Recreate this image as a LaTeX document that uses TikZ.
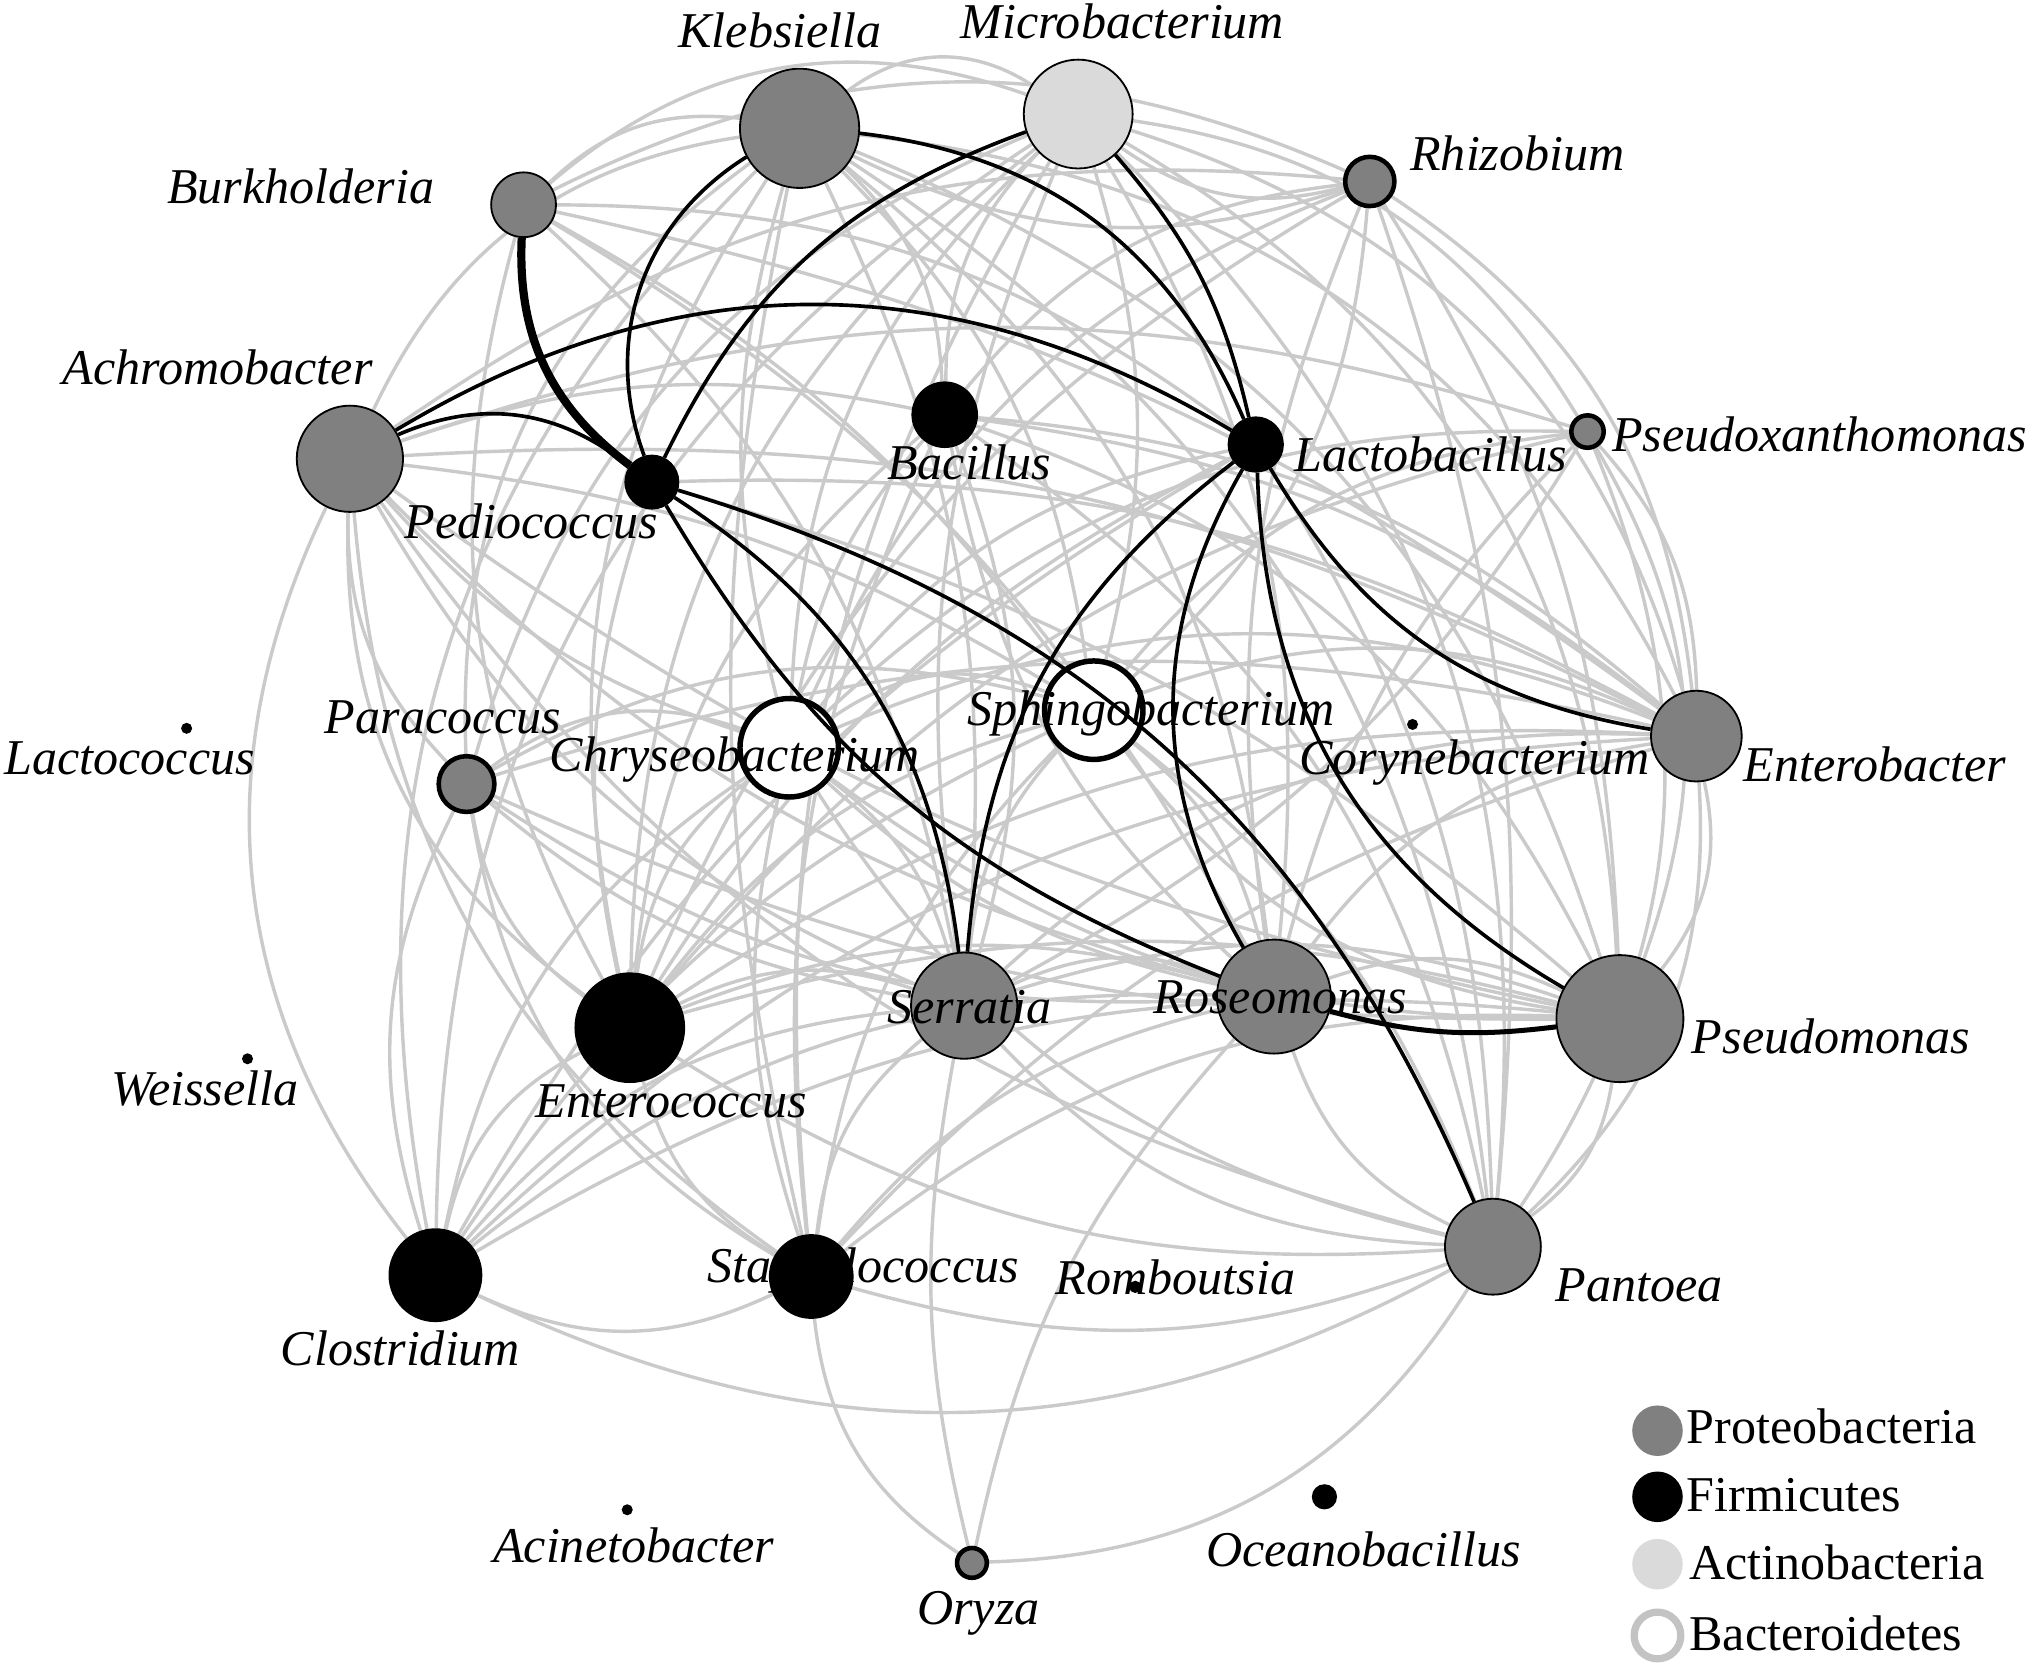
\documentclass[tikz,border=0pt]{standalone}
\usepackage{fontspec}
\setmainfont{Liberation Serif}
\usepackage{tikz}
\usetikzlibrary{positioning}
\definecolor{protgray}{RGB}{128,128,128}
\definecolor{actigray}{RGB}{218,218,218}
\definecolor{edgegray}{RGB}{202,202,202}
\definecolor{ringgray}{RGB}{195,195,195}
\tikzstyle{taxon} = [circle, inner sep=0pt, draw=black, line width=0.4pt]
\tikzstyle{prot} = [taxon, fill=protgray]
\tikzstyle{firm} = [taxon, fill=black]
\tikzstyle{acti} = [taxon, fill=actigray]
\tikzstyle{bact} = [taxon, fill=white, line width=1.2pt]
\tikzstyle{rim} = [line width=1pt]
\tikzstyle{lab} = [inner sep=0pt, text height=8pt, text depth=2.5pt, font=\fontsize{11}{13}\selectfont\itshape]
\tikzstyle{leg} = [inner sep=0pt, anchor=west, text height=8pt, text depth=2.5pt, font=\fontsize{11}{13}\selectfont]
\tikzstyle{gedge} = [draw=edgegray, line width=0.75pt]
\tikzstyle{kedge} = [draw=black, line width=0.8pt]
\pgfdeclarelayer{edges}
\pgfdeclarelayer{front}
\pgfsetlayers{edges,main,front}

\begin{document}
\begin{tikzpicture}[x=0.1mm, y=-0.1mm]
  \useasboundingbox (0,0) rectangle (1568,1288);

  % taxa
  \node[prot, minimum size=9.2mm] (kle) at (617,99) {};
  \node[acti, minimum size=8.4mm] (mic) at (832,88) {};
  \node[prot, minimum size=5.0mm] (bur) at (404,158) {};
  \node[prot, rim, minimum size=3.8mm] (rhi) at (1057,140) {};
  \node[prot, minimum size=8.2mm] (ach) at (270,354) {};
  \node[firm, minimum size=5.0mm] (bac) at (729,320) {};
  \node[firm, minimum size=4.1mm] (ped) at (503,372) {};
  \node[firm, minimum size=4.2mm] (lac) at (969,343) {};
  \node[prot, rim, minimum size=2.5mm] (psx) at (1225,333) {};
  \node[firm, minimum size=0.7mm] (lcc) at (144,562) {};
  \node[prot, rim, minimum size=4.3mm] (par) at (360,605) {};
  \node[bact, minimum size=7.6mm] (chr) at (609,577) {};
  \node[bact, minimum size=7.6mm] (sph) at (844,548) {};
  \node[firm, minimum size=0.7mm] (cor) at (1090,559) {};
  \node[prot, minimum size=7.0mm] (ent) at (1309,568) {};
  \node[firm, minimum size=0.7mm] (wei) at (191,817) {};
  \node[firm, minimum size=8.4mm] (enc) at (486,793) {};
  \node[prot, minimum size=8.2mm] (ser) at (744,776) {};
  \node[prot, minimum size=8.8mm] (ros) at (983,769) {};
  \node[prot, minimum size=9.8mm] (psm) at (1250,786) {};
  \node[firm, minimum size=7.1mm] (clo) at (336,984) {};
  \node[firm, minimum size=6.4mm] (sta) at (626,985) {};
  \node[firm, minimum size=0.8mm] (rom) at (876,993) {};
  \node[prot, minimum size=7.4mm] (pan) at (1152,962) {};
  \node[firm, minimum size=0.7mm] (aci) at (484,1165) {};
  \node[prot, rim, minimum size=2.3mm] (ory) at (750,1206) {};
  \node[firm, minimum size=1.8mm] (oce) at (1022,1155) {};

  % grey links
  \begin{pgfonlayer}{edges}
  \foreach \a/\b/\c in {bur/mic/30, bur/kle/25, bur/lac/18, bur/ser/18, bur/enc/-22, bur/ros/15, bur/sph/12,
      bur/rhi/25, bur/ent/12,
      kle/mic/35, kle/rhi/-22, kle/bac/22, kle/chr/-15, kle/sph/18, kle/ser/15, kle/ros/22, kle/enc/-22,
      kle/psm/25, kle/ent/28, kle/sta/-12, kle/pan/25, kle/par/-28, kle/clo/-28,
      mic/rhi/-25, mic/psx/25, mic/ent/28, mic/psm/28, mic/pan/25, mic/bac/-22, mic/chr/-22, mic/sph/15,
      mic/ser/-15, mic/ros/18, mic/enc/-25, mic/clo/-28, mic/sta/-18, mic/par/-25,
      rhi/ent/25, rhi/psm/15, rhi/sph/22, rhi/ros/-15, rhi/chr/-22, rhi/enc/-18, rhi/bac/-22, rhi/ach/-20,
      rhi/pan/12,
      psx/psm/25, psx/ent/20, psx/pan/28, psx/sph/-22, psx/chr/-22, psx/enc/-18, psx/ach/-18, psx/ros/-15,
      psx/ser/15}
    \draw[gedge] (\a) to[bend left=\c] (\b);
  \foreach \a/\b/\c in {ach/kle/28, ach/bac/15, ach/sph/12, ach/ent/15, ach/chr/-15, ach/par/-22, ach/enc/-28,
      ach/clo/-32, ach/sta/-25, ach/ser/-18, ach/ros/-15, ach/psm/-12, ach/pan/-20,
      bac/ser/18, bac/ros/-18, bac/psm/22, bac/enc/-22, bac/chr/-15, bac/ent/15, bac/sta/-15, bac/pan/22,
      ped/enc/-15, ped/psm/12, ped/ent/15, lac/pan/15, lac/enc/-15, lac/chr/-20, lac/clo/-15,
      par/chr/28, par/enc/-22, par/sta/-25, par/clo/-22, par/ser/-15, par/ros/-18, par/psm/-12, par/ent/15,
      par/sph/22,
      chr/sph/28, chr/enc/-22, chr/ser/18, chr/ros/-15, chr/psm/-18, chr/ent/22, chr/clo/-22, chr/sta/-15,
      chr/pan/-22}
    \draw[gedge] (\a) to[bend left=\c] (\b);
  \foreach \a/\b/\c in {sph/enc/-18, sph/ser/-18, sph/ros/18, sph/psm/-22, sph/ent/22, sph/clo/-15, sph/sta/-18,
      sph/pan/15,
      ent/psm/25, ent/ros/-22, ent/ser/-22, ent/enc/-18, ent/pan/25, ent/clo/-20, ent/sta/-15, ent/bac/-18,
      enc/ser/22, enc/ros/18, enc/psm/15, enc/clo/-25, enc/sta/-22, enc/pan/-18,
      ser/ros/22, ser/psm/18, ser/clo/-22, ser/sta/-22, ser/pan/-22, ser/ory/-12,
      ros/psm/22, ros/clo/-20, ros/sta/-18, ros/pan/-22, ros/ory/-15,
      psm/clo/-18, psm/sta/-20, psm/pan/22, clo/sta/-25, clo/pan/-27, sta/pan/-18, sta/ory/-25, pan/ory/28}
    \draw[gedge] (\a) to[bend left=\c] (\b);
  \end{pgfonlayer}

  % black links
  \begin{pgfonlayer}{front}
  \draw[kedge, line width=1.8pt] (bur) to[bend right=28] (ped);
  \foreach \a/\b/\c in {ach/ped/31, ach/lac/31, kle/ped/-39, kle/lac/30, mic/ped/-22, mic/lac/14,
      ped/ros/-19, ped/ser/25, ped/pan/25, lac/ser/-24, lac/ros/-30, lac/psm/-29, lac/ent/-25}
    \draw[kedge] (\a) to[bend left=\c] (\b);
  \draw[kedge, line width=1.1pt] (ros) to[bend right=11] (psm);

  % names
  \node[lab] (lkle) at (602,27) {Klebsiella};
  \node[lab] (lmic) at (866,20) {Microbacterium};
  \node[lab] (lbur) at (232,147) {Burkholderia};
  \node[lab] (lrhi) at (1171,122) {Rhizobium};
  \node[lab] (lach) at (168,287) {Achromobacter};
  \node[lab] (lbac) at (748,360) {Bacillus};
  \node[lab] (lped) at (410,406) {Pediococcus};
  \node[lab] (llac) at (1104,354) {Lactobacillus};
  \node[lab] (lpsx) at (1404,339) {Pseudoxanthomonas};
  \node[lab] (llcc) at (100,588) {Lactococcus};
  \node[lab] (lpar) at (342,556) {Paracoccus};
  \node[lab] (lchr) at (567,586) {Chryseobacterium};
  \node[lab] (lsph) at (888,550) {Sphingobacterium};
  \node[lab] (lcor) at (1138,588) {Corynebacterium};
  \node[lab] (lent) at (1447,593) {Enterobacter};
  \node[lab] (lwei) at (158,843) {Weissella};
  \node[lab] (lenc) at (518,853) {Enterococcus};
  \node[lab] (lser) at (748,780) {Serratia};
  \node[lab] (lros) at (988,772) {Roseomonas};
  \node[lab] (lpsm) at (1413,803) {Pseudomonas};
  \node[lab] (lclo) at (309,1044) {Clostridium};
  \node[lab] (lsta) at (666,980) {Staphylococcus};
  \node[lab] (lrom) at (907,989) {Romboutsia};
  \node[lab] (lpan) at (1265,995) {Pantoea};
  \node[lab] (laci) at (489,1196) {Acinetobacter};
  \node[lab] (lory) at (755,1244) {Oryza};
  \node[lab] (loce) at (1052,1199) {Oceanobacillus};
  \end{pgfonlayer}

  % legend
  \node[circle, inner sep=0pt, fill=protgray, minimum size=3.9mm] (kprot) at (1279,1104) {};
  \node[circle, inner sep=0pt, fill=black, minimum size=3.9mm] (kfirm) at (1279,1155) {};
  \node[circle, inner sep=0pt, fill=actigray, minimum size=3.9mm] (kacti) at (1279,1207) {};
  \node[circle, inner sep=0pt, draw=ringgray, line width=1.6pt, minimum size=3.6mm] (kbact) at (1279,1262) {};
  \node[leg] (tprot) at (1301,1104) {Proteobacteria};
  \node[leg] (tfirm) at (1301,1157) {Firmicutes};
  \node[leg] (tacti) at (1303,1209) {Actinobacteria};
  \node[leg] (tbact) at (1303,1264) {Bacteroidetes};
\end{tikzpicture}
\end{document}
